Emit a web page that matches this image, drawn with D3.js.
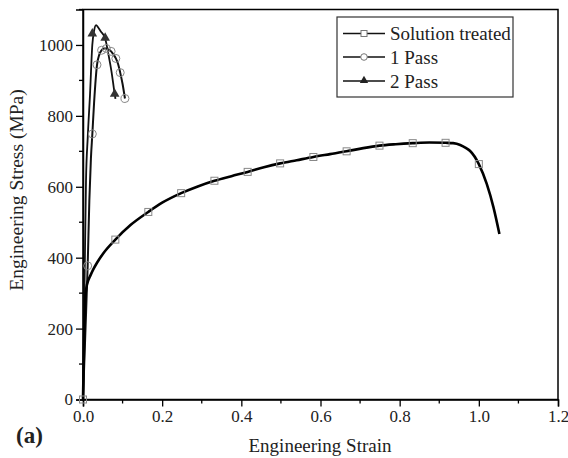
<!DOCTYPE html>
<html><head><meta charset="utf-8">
<script src="https://cdn.jsdelivr.net/npm/d3@7"></script>
<style>body{margin:0;background:#fff}svg{display:block}text{font-family:'Liberation Serif','Times New Roman',serif}</style>
</head><body>
<svg id="c" width="568" height="458"></svg>
<script>
// ---- data ----
const soltStrain = [0,0.002,0.004,0.006,0.009,0.013,0.018,0.025,0.035,0.051,0.0817,0.12,0.165,0.2,0.248,0.29,0.332,0.375,0.416,0.457,0.498,0.54,0.582,0.624,0.666,0.708,0.749,0.79,0.833,0.875,0.916,0.935,0.953,0.968,0.978,1.0,1.02,1.037,1.052];
const soltStress = [0,120,230,290,318,335,348,365,385,412,451,492,529,555,582,601,617,630,642,655,666,675,684,692,700,709,716,720,723,725,724,723,718,709,701,664,608,542,467];
const soltMarkStrain = [0,0.0817,0.165,0.248,0.332,0.416,0.498,0.582,0.666,0.749,0.833,0.916,1.0];
const soltMarkStress = [0,451,529,582,617,642,666,684,700,716,723,724,664];

const p1Strain = [0,0.006,0.0118,0.016,0.02,0.0236,0.028,0.0354,0.041,0.047,0.053,0.059,0.065,0.071,0.077,0.083,0.089,0.094,0.1,0.106];
const p1Stress = [0,190,377,560,680,749,837,944,972,985,990,990,987,982,973,962,945,922,890,849];
const p1MarkStrain = [0.0118,0.0236,0.0354,0.047,0.059,0.071,0.083,0.094,0.106];
const p1MarkStress = [377,749,944,985,990,982,962,922,849];

const p2Strain = [0,0.004,0.0076,0.012,0.0177,0.0235,0.028,0.033,0.038,0.045,0.056,0.064,0.072,0.080,0.082];
const p2Stress = [0,330,617,740,860,1000,1040,1056,1050,1038,1018,975,925,862,848];
const p2MarkStrain = [0.0235,0.056,0.080];
const p2MarkStress = [1032,1020,862];

const xTicks = [0,0.2,0.4,0.6,0.8,1.0,1.2];
const xTickLabels = ["0.0","0.2","0.4","0.6","0.8","1.0","1.2"];
const yTicks = [0,200,400,600,800,1000];
const legendLabels = ["Solution treated","1 Pass","2 Pass"];

// ---- drawing ----
const svg = d3.select("#c");
const L = 83, R = 558, T = 9.5, B = 399.5;
const x = d3.scaleLinear().domain([0,1.2]).range([L,R]);
const y = d3.scaleLinear().domain([0,1100]).range([B,T]);
const serif = "'Liberation Serif','Times New Roman',serif";

// frame
svg.append("rect").attr("x",L).attr("y",T).attr("width",R-L).attr("height",B-T)
  .attr("fill","none").attr("stroke","#000").attr("stroke-width",1.5);

// axes
const xAxis = d3.axisBottom(x).tickValues(xTicks).tickFormat((d,i)=>xTickLabels[i]).tickSize(7).tickPadding(3);
const gx = svg.append("g").attr("transform",`translate(0,${B})`).call(xAxis);
const xMinor = d3.range(0.1,1.2,0.2);
gx.selectAll(".minor").data(xMinor).enter().append("line").attr("class","minor")
  .attr("x1",d=>x(d)).attr("x2",d=>x(d)).attr("y1",0).attr("y2",4).attr("stroke","#000").attr("stroke-width",1.3);
const yAxis = d3.axisLeft(y).tickValues(yTicks).tickFormat(d3.format("d")).tickSize(7).tickPadding(3);
const gy = svg.append("g").attr("transform",`translate(${L},0)`).call(yAxis);
const yMinor = d3.range(100,1101,200);
gy.selectAll(".minor").data(yMinor).enter().append("line").attr("class","minor")
  .attr("y1",d=>y(d)).attr("y2",d=>y(d)).attr("x1",0).attr("x2",-4).attr("stroke","#000").attr("stroke-width",1.3);
[gx,gy].forEach(g=>{
  g.attr("font-family",serif);
  g.select(".domain").attr("stroke","#000").attr("stroke-width",1.5);
  g.selectAll(".tick line").attr("stroke","#000").attr("stroke-width",1.3);
  g.selectAll(".tick text").style("font-family",serif).style("font-size","17px").attr("fill","#222");
});

// titles
svg.append("text").attr("x",320).attr("y",452).attr("text-anchor","middle")
  .style("font-family",serif).style("font-size","19px").attr("fill","#222").text("Engineering Strain");
svg.append("text").attr("transform","translate(23,190) rotate(-90)").attr("text-anchor","middle")
  .style("font-family",serif).style("font-size","19.5px").attr("fill","#222").text("Engineering Stress (MPa)");
svg.append("text").attr("x",16).attr("y",443).style("font-family",serif).style("font-weight","bold")
  .style("font-size","23px").attr("fill","#222").text("(a)");

// lines
const line = d3.line().x(d=>x(d[0])).y(d=>y(d[1])).curve(d3.curveMonotoneX);
const plot = svg.append("g");
const s1 = p1Strain.map((v,i)=>[v,p1Stress[i]]);
const s2 = p2Strain.map((v,i)=>[v,p2Stress[i]]);
const s0 = soltStrain.map((v,i)=>[v,soltStress[i]]);
plot.append("path").attr("d",line(s1)).attr("fill","none").attr("stroke","#111").attr("stroke-width",2);
plot.append("path").attr("d",line(s2)).attr("fill","none").attr("stroke","#111").attr("stroke-width",1.8);
plot.append("path").attr("d",line(s0)).attr("fill","none").attr("stroke","#000").attr("stroke-width",2.6);

// markers
const sq = soltMarkStrain.map((v,i)=>[v,soltMarkStress[i]]);
plot.selectAll(".sq").data(sq).enter().append("rect")
  .attr("x",d=>x(d[0])-3.5).attr("y",d=>y(d[1])-3.5).attr("width",7).attr("height",7)
  .attr("fill","none").attr("stroke","#888").attr("stroke-width",1);
const ci = p1MarkStrain.map((v,i)=>[v,p1MarkStress[i]]);
plot.selectAll(".ci").data(ci).enter().append("circle")
  .attr("cx",d=>x(d[0])).attr("cy",d=>y(d[1])).attr("r",4)
  .attr("fill","none").attr("stroke","#888").attr("stroke-width",1);
const tri = d3.symbol().type(d3.symbolTriangle).size(40);
const tr = p2MarkStrain.map((v,i)=>[v,p2MarkStress[i]]);
plot.selectAll(".tr").data(tr).enter().append("path")
  .attr("d",tri).attr("transform",d=>`translate(${x(d[0])},${y(d[1])})`).attr("fill","#333");

// legend
const lg = svg.append("g");
lg.append("rect").attr("x",337).attr("y",17).attr("width",176).attr("height",80)
  .attr("fill","#fff").attr("stroke","#333").attr("stroke-width",1.2);
const rows = [33.5,57,81];
legendLabels.forEach((t,i)=>{
  const yy = rows[i];
  lg.append("line").attr("x1",343).attr("x2",385).attr("y1",yy).attr("y2",yy).attr("stroke","#111").attr("stroke-width",1.3);
  if(i===0) lg.append("rect").attr("x",361).attr("y",yy-3).attr("width",6).attr("height",6).attr("fill","#fff").attr("stroke","#777");
  if(i===1) lg.append("circle").attr("cx",364).attr("cy",yy).attr("r",3.3).attr("fill","#fff").attr("stroke","#777");
  if(i===2) lg.append("path").attr("d",d3.symbol().type(d3.symbolTriangle).size(30)).attr("transform",`translate(364,${yy-0.5})`).attr("fill","#222");
  lg.append("text").attr("x",390).attr("y",yy+6.5).style("font-family",serif).style("font-size","19px").attr("fill","#222").text(t);
});
</script>
</body></html>
